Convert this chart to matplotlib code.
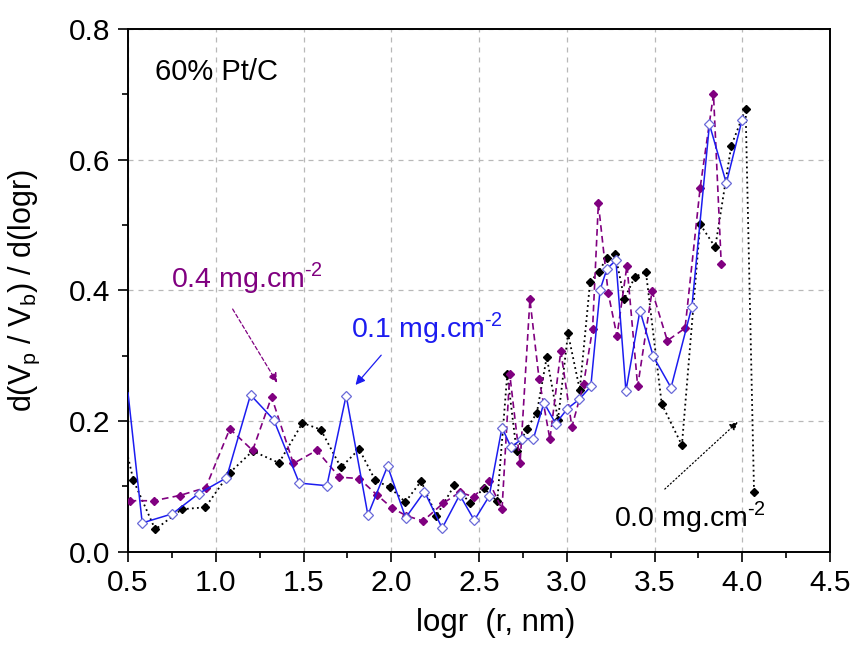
# Pore size distribution, 60% Pt/C at three Pt loadings

import matplotlib
matplotlib.use("Agg")
import matplotlib.pyplot as plt
from matplotlib.ticker import MultipleLocator, FormatStrFormatter

plt.rcParams["font.family"] = ["Liberation Sans", "DejaVu Sans"]

# 0.0 mg.cm-2 (first point sits on the left axis, drawn without a marker)
x_00 = [0.50, 0.531, 0.655, 0.807, 0.941, 1.08, 1.21, 1.36, 1.494, 1.598, 1.713, 1.817, 1.909,
        1.99, 2.08, 2.17, 2.257, 2.36, 2.447, 2.527, 2.604, 2.661, 2.714, 2.771, 2.829, 2.886,
        2.95, 3.007, 3.074, 3.133, 3.181, 3.229, 3.276, 3.328, 3.389, 3.451, 3.541, 3.656,
        3.76, 3.846, 3.937, 4.019, 4.067]
y_00 = [0.145, 0.109, 0.034, 0.065, 0.068, 0.121, 0.154, 0.136, 0.197, 0.187, 0.129, 0.157, 0.109,
        0.099, 0.076, 0.108, 0.055, 0.102, 0.075, 0.097, 0.077, 0.272, 0.154, 0.188, 0.212, 0.298,
        0.202, 0.334, 0.248, 0.413, 0.428, 0.450, 0.455, 0.387, 0.421, 0.428, 0.226, 0.163,
        0.501, 0.466, 0.621, 0.678, 0.092]

# 0.4 mg.cm-2
x_04 = [0.509, 0.646, 0.794, 0.943, 1.08, 1.21, 1.318, 1.442, 1.575, 1.705, 1.817, 1.918, 2.004,
        2.086, 2.181, 2.295, 2.39, 2.47, 2.556, 2.631, 2.675, 2.734, 2.79, 2.842, 2.904, 2.966,
        3.029, 3.096, 3.147, 3.18, 3.236, 3.286, 3.343, 3.404, 3.486, 3.573, 3.674, 3.76,
        3.836, 3.88]
y_04 = [0.078, 0.078, 0.086, 0.098, 0.188, 0.155, 0.237, 0.135, 0.155, 0.114, 0.112, 0.087, 0.067,
        0.055, 0.047, 0.074, 0.091, 0.084, 0.108, 0.065, 0.272, 0.136, 0.386, 0.265, 0.172, 0.307,
        0.191, 0.257, 0.341, 0.533, 0.396, 0.330, 0.438, 0.253, 0.399, 0.323, 0.342, 0.557,
        0.700, 0.441]

# 0.1 mg.cm-2 (first point on the left axis, no marker)
x_01 = [0.50, 0.581, 0.753, 0.903, 1.061, 1.198, 1.330, 1.476, 1.633, 1.743, 1.867, 1.979, 2.082,
        2.189, 2.290, 2.390, 2.473, 2.558, 2.631, 2.682, 2.747, 2.810, 2.870, 2.937, 3.004, 3.070,
        3.137, 3.190, 3.229, 3.280, 3.337, 3.417, 3.493, 3.594, 3.713, 3.813, 3.909, 3.998]
y_01 = [0.243, 0.044, 0.058, 0.089, 0.113, 0.240, 0.202, 0.105, 0.101, 0.239, 0.056, 0.131, 0.052,
        0.092, 0.036, 0.087, 0.048, 0.085, 0.190, 0.160, 0.173, 0.173, 0.228, 0.196, 0.219, 0.233,
        0.253, 0.401, 0.433, 0.446, 0.246, 0.369, 0.299, 0.251, 0.375, 0.654, 0.564, 0.660]

purple = "#800080"
blue = "#1c1cf0"
# superscript with a plain hyphen instead of the math minus
sup = "$^\\mathregular{\u20102}$"

fig = plt.figure(figsize=(8.58, 6.47), dpi=100)
ax = fig.add_axes([0.1492, 0.1473, 0.8182, 0.8079])

ax.plot(x_00, y_00, linestyle=(0, (1, 1.8)), color="black", lw=1.3,
        marker="D", ms=4.3, mfc="black", mec="black", markevery=slice(1, None), zorder=3)
ax.plot(x_04, y_04, linestyle=(0, (4, 2.5)), color=purple, lw=1.2,
        marker="D", ms=4.3, mfc=purple, mec=purple, zorder=3)
ax.plot(x_01, y_01, linestyle="-", color=blue, lw=1.1,
        marker="D", ms=4.8, mfc="white", mec="#6a6ad8", mew=0.9,
        markevery=slice(1, None), zorder=4)

ax.set_xlim(0.5, 4.5)
ax.set_ylim(0.0, 0.8)
ax.xaxis.set_major_locator(MultipleLocator(0.5))
ax.xaxis.set_minor_locator(MultipleLocator(0.25))
ax.yaxis.set_major_locator(MultipleLocator(0.2))
ax.yaxis.set_minor_locator(MultipleLocator(0.1))
ax.xaxis.set_major_formatter(FormatStrFormatter("%.1f"))
ax.yaxis.set_major_formatter(FormatStrFormatter("%.1f"))

ax.tick_params(which="major", direction="out", length=7.5, width=1.2, labelsize=21.5, pad=5)
ax.tick_params(which="minor", direction="out", length=4.5, width=1.2)
for s in ax.spines.values():
    s.set_linewidth(1.4)

ax.grid(True, which="major", linestyle=(0, (4, 4)), color="#b8b8b8", lw=0.9)
ax.set_axisbelow(True)

ax.set_xlabel("logr  (r, nm)", fontsize=22.5)
ax.xaxis.set_label_coords(0.524, -0.108)
ax.set_ylabel(r"d(V$_\mathregular{p}$ / V$_\mathregular{b}$) / d(logr)", fontsize=22)
ax.yaxis.set_label_coords(-0.122, 0.5)

ax.text(0.651, 0.722, "60% Pt/C", fontsize=21, va="baseline", ha="left")

ax.text(0.746, 0.405, "0.4 mg.cm" + sup, fontsize=20.5, color=purple,
        va="baseline", ha="left")
ax.annotate("", xy=(1.358, 0.255), xytext=(1.088, 0.375),
            arrowprops=dict(arrowstyle="-|>", color=purple, lw=0.9, linestyle=(0, (3, 2)),
                            mutation_scale=14))

ax.text(1.773, 0.328, "0.1 mg.cm" + sup, fontsize=20.5, color=blue,
        va="baseline", ha="left")
ax.annotate("", xy=(1.786, 0.252), xytext=(1.953, 0.304),
            arrowprops=dict(arrowstyle="-|>", color=blue, lw=0.9, mutation_scale=14))

ax.text(3.268, 0.039, "0.0 mg.cm" + sup, fontsize=20.5, color="black",
        va="baseline", ha="left")
ax.annotate("", xy=(3.986, 0.2015), xytext=(3.547, 0.093),
            arrowprops=dict(arrowstyle="-|>", color="black", lw=0.9, linestyle=(0, (1, 2)),
                            mutation_scale=12))

fig.savefig("out.png", dpi=100)
print("saved out.png")
